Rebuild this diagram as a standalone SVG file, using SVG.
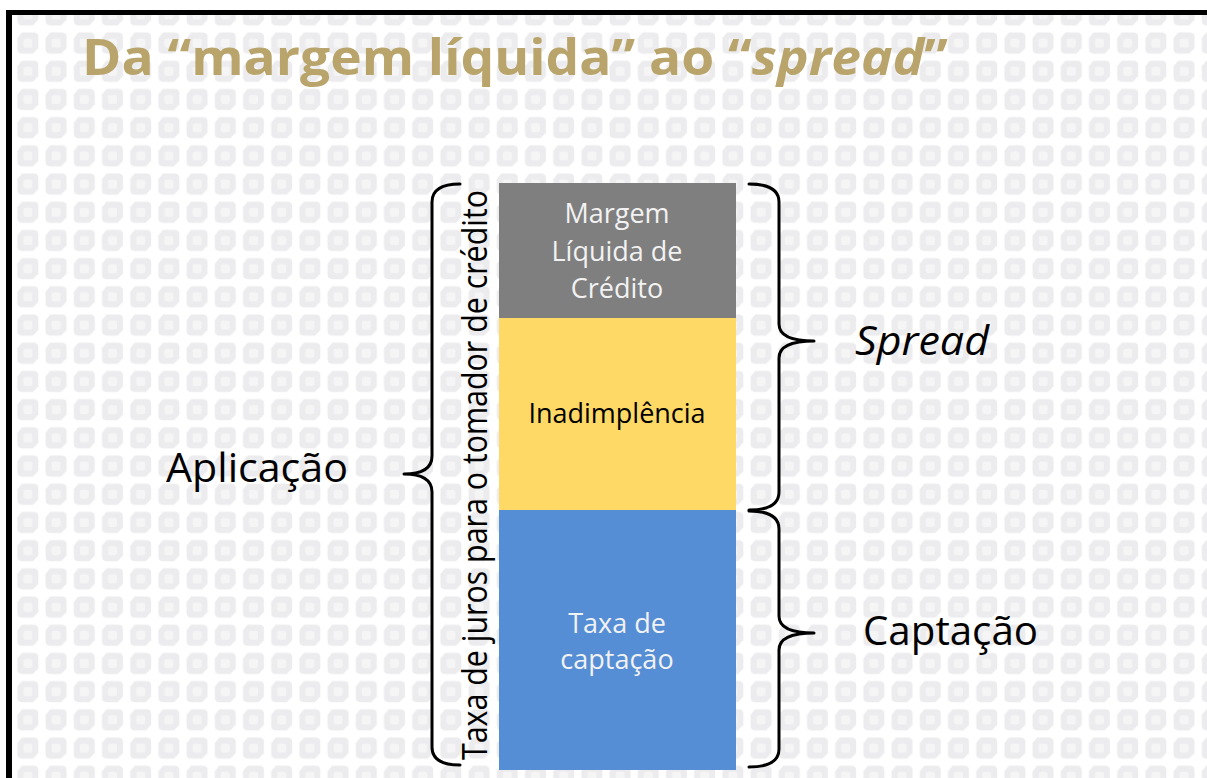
<svg xmlns="http://www.w3.org/2000/svg" width="1207" height="778" viewBox="0 0 1207 778">
  <defs>
    <pattern id="bgpat" width="28.2" height="28.2" patternUnits="userSpaceOnUse" patternTransform="translate(13.9,0.9)">
      <path d="M8,3.5 H20 Q24.5,3.5 24.5,8 V19 L19,24.5 H8 Q3.5,24.5 3.5,20 V9 Z" fill="#ececee"/>
      <rect x="9.5" y="9.5" width="9" height="9" rx="2" fill="#f5f5f6"/>
    </pattern>
    <style>
      .lbl { font-family: "Open Sans", "Liberation Sans", sans-serif; fill: #000; }
      .box { font-family: "Open Sans", "Liberation Sans", sans-serif; font-size: 27px; text-anchor: middle; }
      .brace { fill: none; stroke: #000; stroke-width: 3; stroke-linecap: round; stroke-linejoin: round; }
    </style>
  </defs>

  <rect x="0" y="0" width="1207" height="778" fill="#ffffff"/>
  <rect x="12" y="15" width="1195" height="763" fill="url(#bgpat)"/>
  <!-- frame -->
  <line x1="6" y1="12.5" x2="1207" y2="12.5" stroke="#000" stroke-width="5"/>
  <line x1="9" y1="10" x2="9" y2="778" stroke="#000" stroke-width="6"/>

  <text id="title" x="82" y="75" textLength="866" lengthAdjust="spacingAndGlyphs" font-family="'Open Sans', 'Liberation Sans', sans-serif" font-weight="bold" font-size="50" fill="#b9a46b">Da “margem líquida” ao “<tspan font-style="italic">spread</tspan>”</text>

  <g id="node-margem">
    <rect x="499" y="183" width="237" height="136" fill="#7f7f7f"/>
    <text class="box" fill="#f2f2f2"><tspan x="617" y="223">Margem</tspan><tspan x="617" y="261">Líquida de</tspan><tspan x="617" y="298">Crédito</tspan></text>
  </g>
  <g id="node-inadimplencia">
    <rect x="499" y="318" width="237" height="193" fill="#ffd966"/>
    <text class="box" fill="#000" x="617" y="423">Inadimplência</text>
  </g>
  <g id="node-captacao">
    <rect x="499" y="510" width="237" height="260" fill="#558ed5"/>
    <text class="box" fill="#f2f2f2"><tspan x="617" y="633">Taxa de</tspan><tspan x="617" y="669">captação</tspan></text>
  </g>

  <g id="connectors">
    <path class="brace" d="M460,184 Q432,184 432,202 L432,456 Q432,474 404,474 Q432,474 432,492 L432,747 Q432,765 460,765"/>
    <path class="brace" d="M749,184 Q779,184 779,202 L779,324 Q779,341 814,341 Q779,341 779,358 L779,492 Q779,510 749,510"/>
    <path class="brace" d="M749,511 Q779,511 779,529 L779,616 Q779,633 814,633 Q779,633 779,650 L779,749 Q779,767 749,767"/>
  </g>

  <g id="label-vertical">
    <text class="lbl" transform="translate(487,760) rotate(-90)" x="0" y="0" font-size="35" textLength="570" lengthAdjust="spacingAndGlyphs">Taxa de juros para o tomador de crédito</text>
  </g>
  <g id="label-aplicacao">
    <text class="lbl" x="166" y="482" font-size="40" textLength="182" lengthAdjust="spacingAndGlyphs">Aplicação</text>
  </g>
  <g id="label-spread">
    <text class="lbl" x="855" y="355" font-size="40" font-style="italic" textLength="134" lengthAdjust="spacingAndGlyphs">Spread</text>
  </g>
  <g id="label-captacao">
    <text class="lbl" x="863" y="645" font-size="40" textLength="175" lengthAdjust="spacingAndGlyphs">Captação</text>
  </g>
</svg>
